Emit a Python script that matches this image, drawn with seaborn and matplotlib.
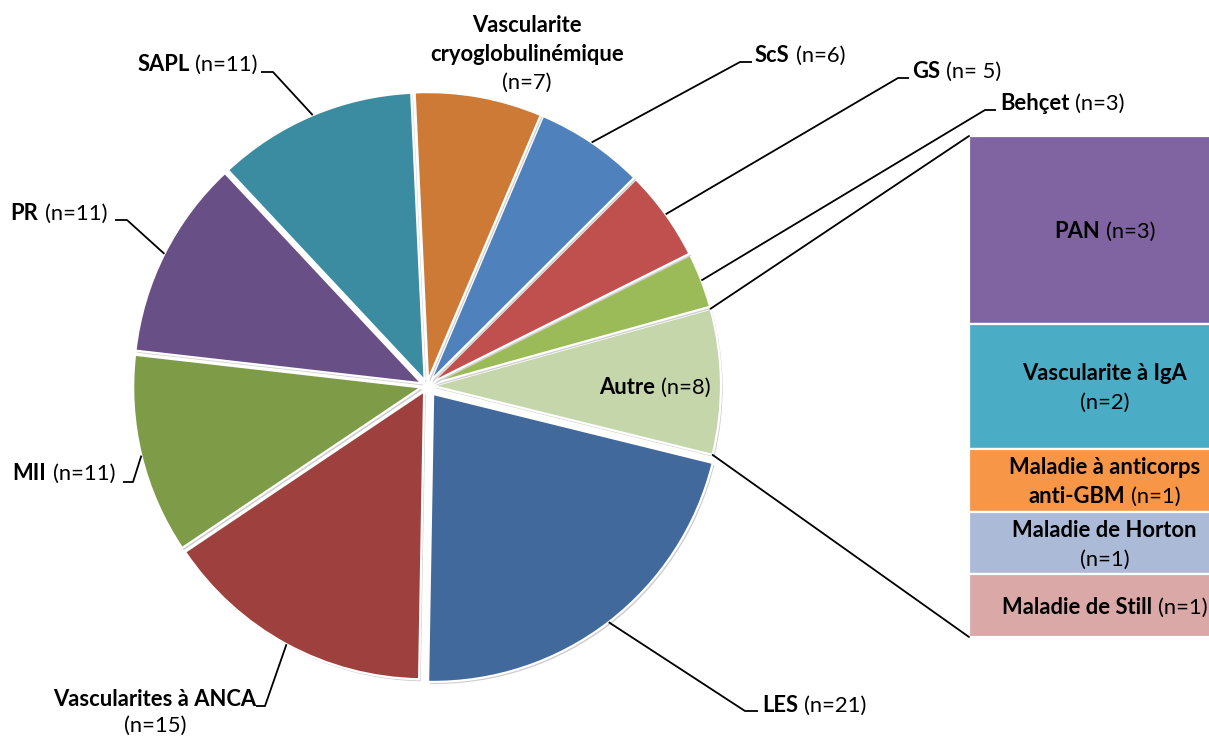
import matplotlib
matplotlib.use("Agg")
import numpy as np
import matplotlib.pyplot as plt
import seaborn as sns
from matplotlib import patheffects as pe

# ---------------- data ----------------
pie_names = ["LES", "Autre", "Behçet", "GS", "ScS",
             "Vascularite cryoglobulinémique", "SAPL", "PR", "MII",
             "Vascularites à ANCA"]
pie_counts = [21, 8, 3, 5, 6, 7, 11, 11, 11, 15]
pie_hex = ["#41699B", "#C5D6AB", "#9BBB59", "#C0504D", "#4F81BD",
           "#CD7A37", "#3B8BA1", "#684F86", "#7E9B48", "#9E403E"]

bar_names = ["PAN", "Vascularite à IgA", "Maladie à anticorps anti-GBM",
             "Maladie de Horton", "Maladie de Still"]
bar_counts = [3, 2, 1, 1, 1]
bar_hex = ["#8064A2", "#4BACC6", "#F79646", "#AABAD7", "#D9A8A7"]

# ---------------- style ----------------
W, H = 1209, 737
sns.set_theme(style="white")
plt.rcParams["font.family"] = ["Lato", "DejaVu Sans"]
FS = 15.8
GAP = 6

fig = plt.figure(figsize=(W / 100, H / 100), dpi=100)
ax = fig.add_axes([0, 0, 1, 1])
ax.set_zorder(2)

shadow = [pe.SimplePatchShadow(offset=(1.2, -1.5), shadow_rgbFace=(0.45, 0.45, 0.45), alpha=0.35),
          pe.Normal()]

explode = [10 if n == "LES" else 6 for n in pie_names]
wedges, _ = ax.pie(pie_counts, colors=sns.color_palette(pie_hex),
                   startangle=-91, counterclock=True, radius=288,
                   center=(427, H - 386), explode=explode,
                   wedgeprops=dict(edgecolor="white", linewidth=1.6))
for w in wedges:
    w.set_path_effects(shadow)
ax.set_xlim(0, W)
ax.set_ylim(0, H)
ax.set_aspect("equal")
ax.axis("off")

# bar of pie
bx0, bx1, by_top, by_bot = 969, 1240, 136, 637
ax2 = fig.add_axes([bx0 / W, (H - by_bot) / H, (bx1 - bx0) / W, (by_bot - by_top) / H])
ax2.set_zorder(1)
total_bar = sum(bar_counts)
ax2.set_xlim(0, 1)
ax2.set_ylim(total_bar, 0)
ax2.axis("off")
bottoms = np.concatenate([[0], np.cumsum(bar_counts)[:-1]])
bars = ax2.bar(0.5, bar_counts, bottom=bottoms, width=1.0,
               color=sns.color_palette(bar_hex), edgecolor="white", linewidth=1.6)
for b in bars:
    b.set_path_effects([pe.SimplePatchShadow(offset=(-1.2, -1.2), shadow_rgbFace=(0.45, 0.45, 0.45), alpha=0.35),
                        pe.Normal()])

renderer = fig.canvas.get_renderer()


def to_px(axx, x, y):
    return ax.transData.inverted().transform(axx.transData.transform((x, y)))


def count_str(name, c):
    return f"(n= {c})" if name == "GS" else f"(n={c})"


def build_lines(name, c, wrap):
    cs = count_str(name, c)
    if wrap == "one":
        return [[(name, True), (cs, False)]]
    if wrap == "two":
        return [[(name, True)], [(cs, False)]]
    if wrap == "words":
        return [[(wd, True)] for wd in name.split()] + [[(cs, False)]]
    if wrap == "last":
        head, tail = name.rsplit(" ", 1)
        return [[(head, True)], [(tail, True), (cs, False)]]


def rich(x, y_base, lines, ha, lh=29):
    """x, y_base in top-down pixel coords; y_base = baseline of first line."""
    for i, parts in enumerate(lines):
        yy = H - (y_base + i * lh)
        arts = [ax.text(0, yy, s, fontsize=FS, fontweight="bold" if b else "normal",
                        ha="left", va="baseline", color="black", zorder=10) for s, b in parts]
        widths = [t.get_window_extent(renderer=renderer).width for t in arts]
        tot = sum(widths) + GAP * (len(arts) - 1)
        x0 = x - tot / 2 if ha == "center" else (x - tot if ha == "right" else x)
        for t, wd in zip(arts, widths):
            t.set_x(x0)
            x0 += wd + GAP


def rim_point(w, frac=1.0):
    th = np.deg2rad((w.theta1 + w.theta2) / 2)
    cx, cy = w.center
    return cx + frac * w.r * np.cos(th), cy + frac * w.r * np.sin(th)


# layout for pie labels: x, first baseline, ha, wrap, line height, leader (x_start, x_elbow, y)
pie_layout = {
    "LES": (762, 712, "left", "one", 29, (758, 745, 711)),
    "Behçet": (1000, 110, "left", "one", 29, (996, 985, 110)),
    "GS": (912, 78, "left", "one", 29, (909, 898, 78)),
    "ScS": (755, 62, "left", "one", 29, (752, 740, 62)),
    "Vascularite cryoglobulinémique": (527, 32, "center", "words", 28.5, None),
    "SAPL": (258, 71, "right", "one", 29, (261, 273, 72)),
    "PR": (107, 220, "right", "one", 29, (115, 127, 220)),
    "MII": (115, 480, "right", "one", 29, (123, 133, 482)),
    "Vascularites à ANCA": (155, 706, "center", "two", 26, (256, 265, 706)),
}

for name, c, w in zip(pie_names, pie_counts, wedges):
    if name in pie_layout:
        x, yb, ha, wrap, lh, lead = pie_layout[name]
        rich(x, yb, build_lines(name, c, wrap), ha, lh)
        if lead is not None:
            xs, xe, ly = lead
            px, py = rim_point(w)
            ax.plot([xs, xe, px], [H - ly, H - ly, py], color="black", lw=1.3,
                    solid_capstyle="butt", zorder=5)
    else:
        # label inside the wedge
        px, py = rim_point(w, 0.77)
        rich(px, H - py + 11, build_lines(name, c, "one"), "center")

# connector lines from the "Autre" wedge to the bar
aw = wedges[pie_names.index("Autre")]
cx, cy = aw.center
top_c = (cx + aw.r * np.cos(np.deg2rad(aw.theta2)), cy + aw.r * np.sin(np.deg2rad(aw.theta2)))
bot_c = (cx + aw.r * np.cos(np.deg2rad(aw.theta1)), cy + aw.r * np.sin(np.deg2rad(aw.theta1)))
bar_tl = to_px(ax2, 0, 0)
bar_bl = to_px(ax2, 0, total_bar)
ax.plot([top_c[0], bar_tl[0]], [top_c[1], bar_tl[1]], color="black", lw=1.3, zorder=5)
ax.plot([bot_c[0], bar_bl[0]], [bot_c[1], bar_bl[1]], color="black", lw=1.3, zorder=5)

# bar labels
bar_wrap = {"PAN": "one", "Vascularite à IgA": "two", "Maladie à anticorps anti-GBM": "last",
            "Maladie de Horton": "two", "Maladie de Still": "one"}
for name, c, b0 in zip(bar_names, bar_counts, bottoms):
    lines = build_lines(name, c, bar_wrap[name])
    px, py = to_px(ax2, 0.5, b0 + c / 2)
    yc = H - py
    n = len(lines)
    rich(px, yc + 8 - (n - 1) / 2 * 29, lines, "center", 29)

fig.savefig("out.png", dpi=100, facecolor="white")
